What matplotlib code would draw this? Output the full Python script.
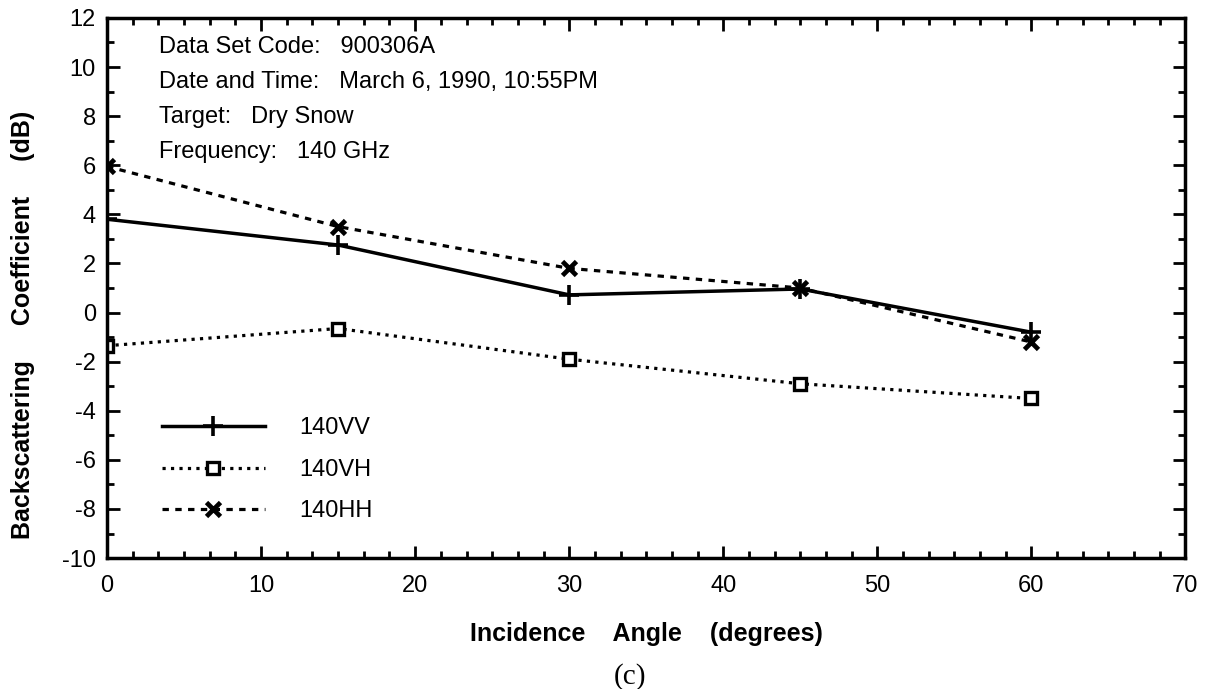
import numpy as np
import matplotlib.pyplot as plt
from matplotlib.ticker import MultipleLocator

plt.rcParams['font.family'] = ['Liberation Sans', 'DejaVu Sans']
plt.rcParams['axes.unicode_minus'] = False

# data
angle = [0, 15, 30, 45, 60]
vv = [3.8, 2.75, 0.72, 0.96, -0.8]
vh = [-1.35, -0.65, -1.9, -2.9, -3.5]
hh = [5.95, 3.5, 1.8, 1.0, -1.2]

info = ["Data Set Code:   900306A",
        "Date and Time:   March 6, 1990, 10:55PM",
        "Target:   Dry Snow",
        "Frequency:   140 GHz"]

fig = plt.figure(figsize=(12.17, 6.89), dpi=100)
ax = fig.add_axes([0.088, 0.190, 0.886, 0.784])

ax.plot(angle, vv, '-', color='black', lw=2.5, marker='+', ms=14, mew=2.6, label='140VV')
ax.plot(angle, vh, ':', color='black', lw=2.3, marker='s', ms=9, mew=2.4,
        mfc='white', label='140VH')
ax.plot(angle, hh, '--', color='black', lw=2.3, dashes=(2, 2), marker='x', ms=10, mew=3.4,
        label='140HH')

ax.set_xlim(0, 70)
ax.set_ylim(-10, 12)
ax.xaxis.set_major_locator(MultipleLocator(10))
ax.xaxis.set_minor_locator(MultipleLocator(10 / 6.))
ax.yaxis.set_major_locator(MultipleLocator(2))
ax.yaxis.set_minor_locator(MultipleLocator(1))
ax.tick_params(which='both', direction='in', top=True, right=True, width=2, labelsize=17)
ax.tick_params(which='major', length=9)
ax.tick_params(axis='x', which='major', pad=12)
ax.tick_params(axis='y', which='major', pad=8)
ax.tick_params(which='minor', length=5)
for s in ax.spines.values():
    s.set_linewidth(2.5)

ax.set_xlabel("Incidence    Angle    (degrees)", fontsize=18, fontweight='bold', labelpad=18)
ax.set_ylabel("Backscattering     Coefficient     (dB)", fontsize=18, fontweight='bold')
ax.yaxis.set_label_coords(-0.067, 0.431)

for i, t in enumerate(info):
    ax.text(0.048, 0.946 - i * 0.065, t, transform=ax.transAxes, fontsize=17, va='center')

leg = ax.legend(loc='upper left', bbox_to_anchor=(0.031, 0.30), frameon=False, fontsize=17,
                handlelength=4.36, handletextpad=1.48, labelspacing=0.83)

fig.text(0.518, 0.008, "(c)", fontsize=21, family='Liberation Serif', ha='center')

fig.savefig('out.png', dpi=100)
